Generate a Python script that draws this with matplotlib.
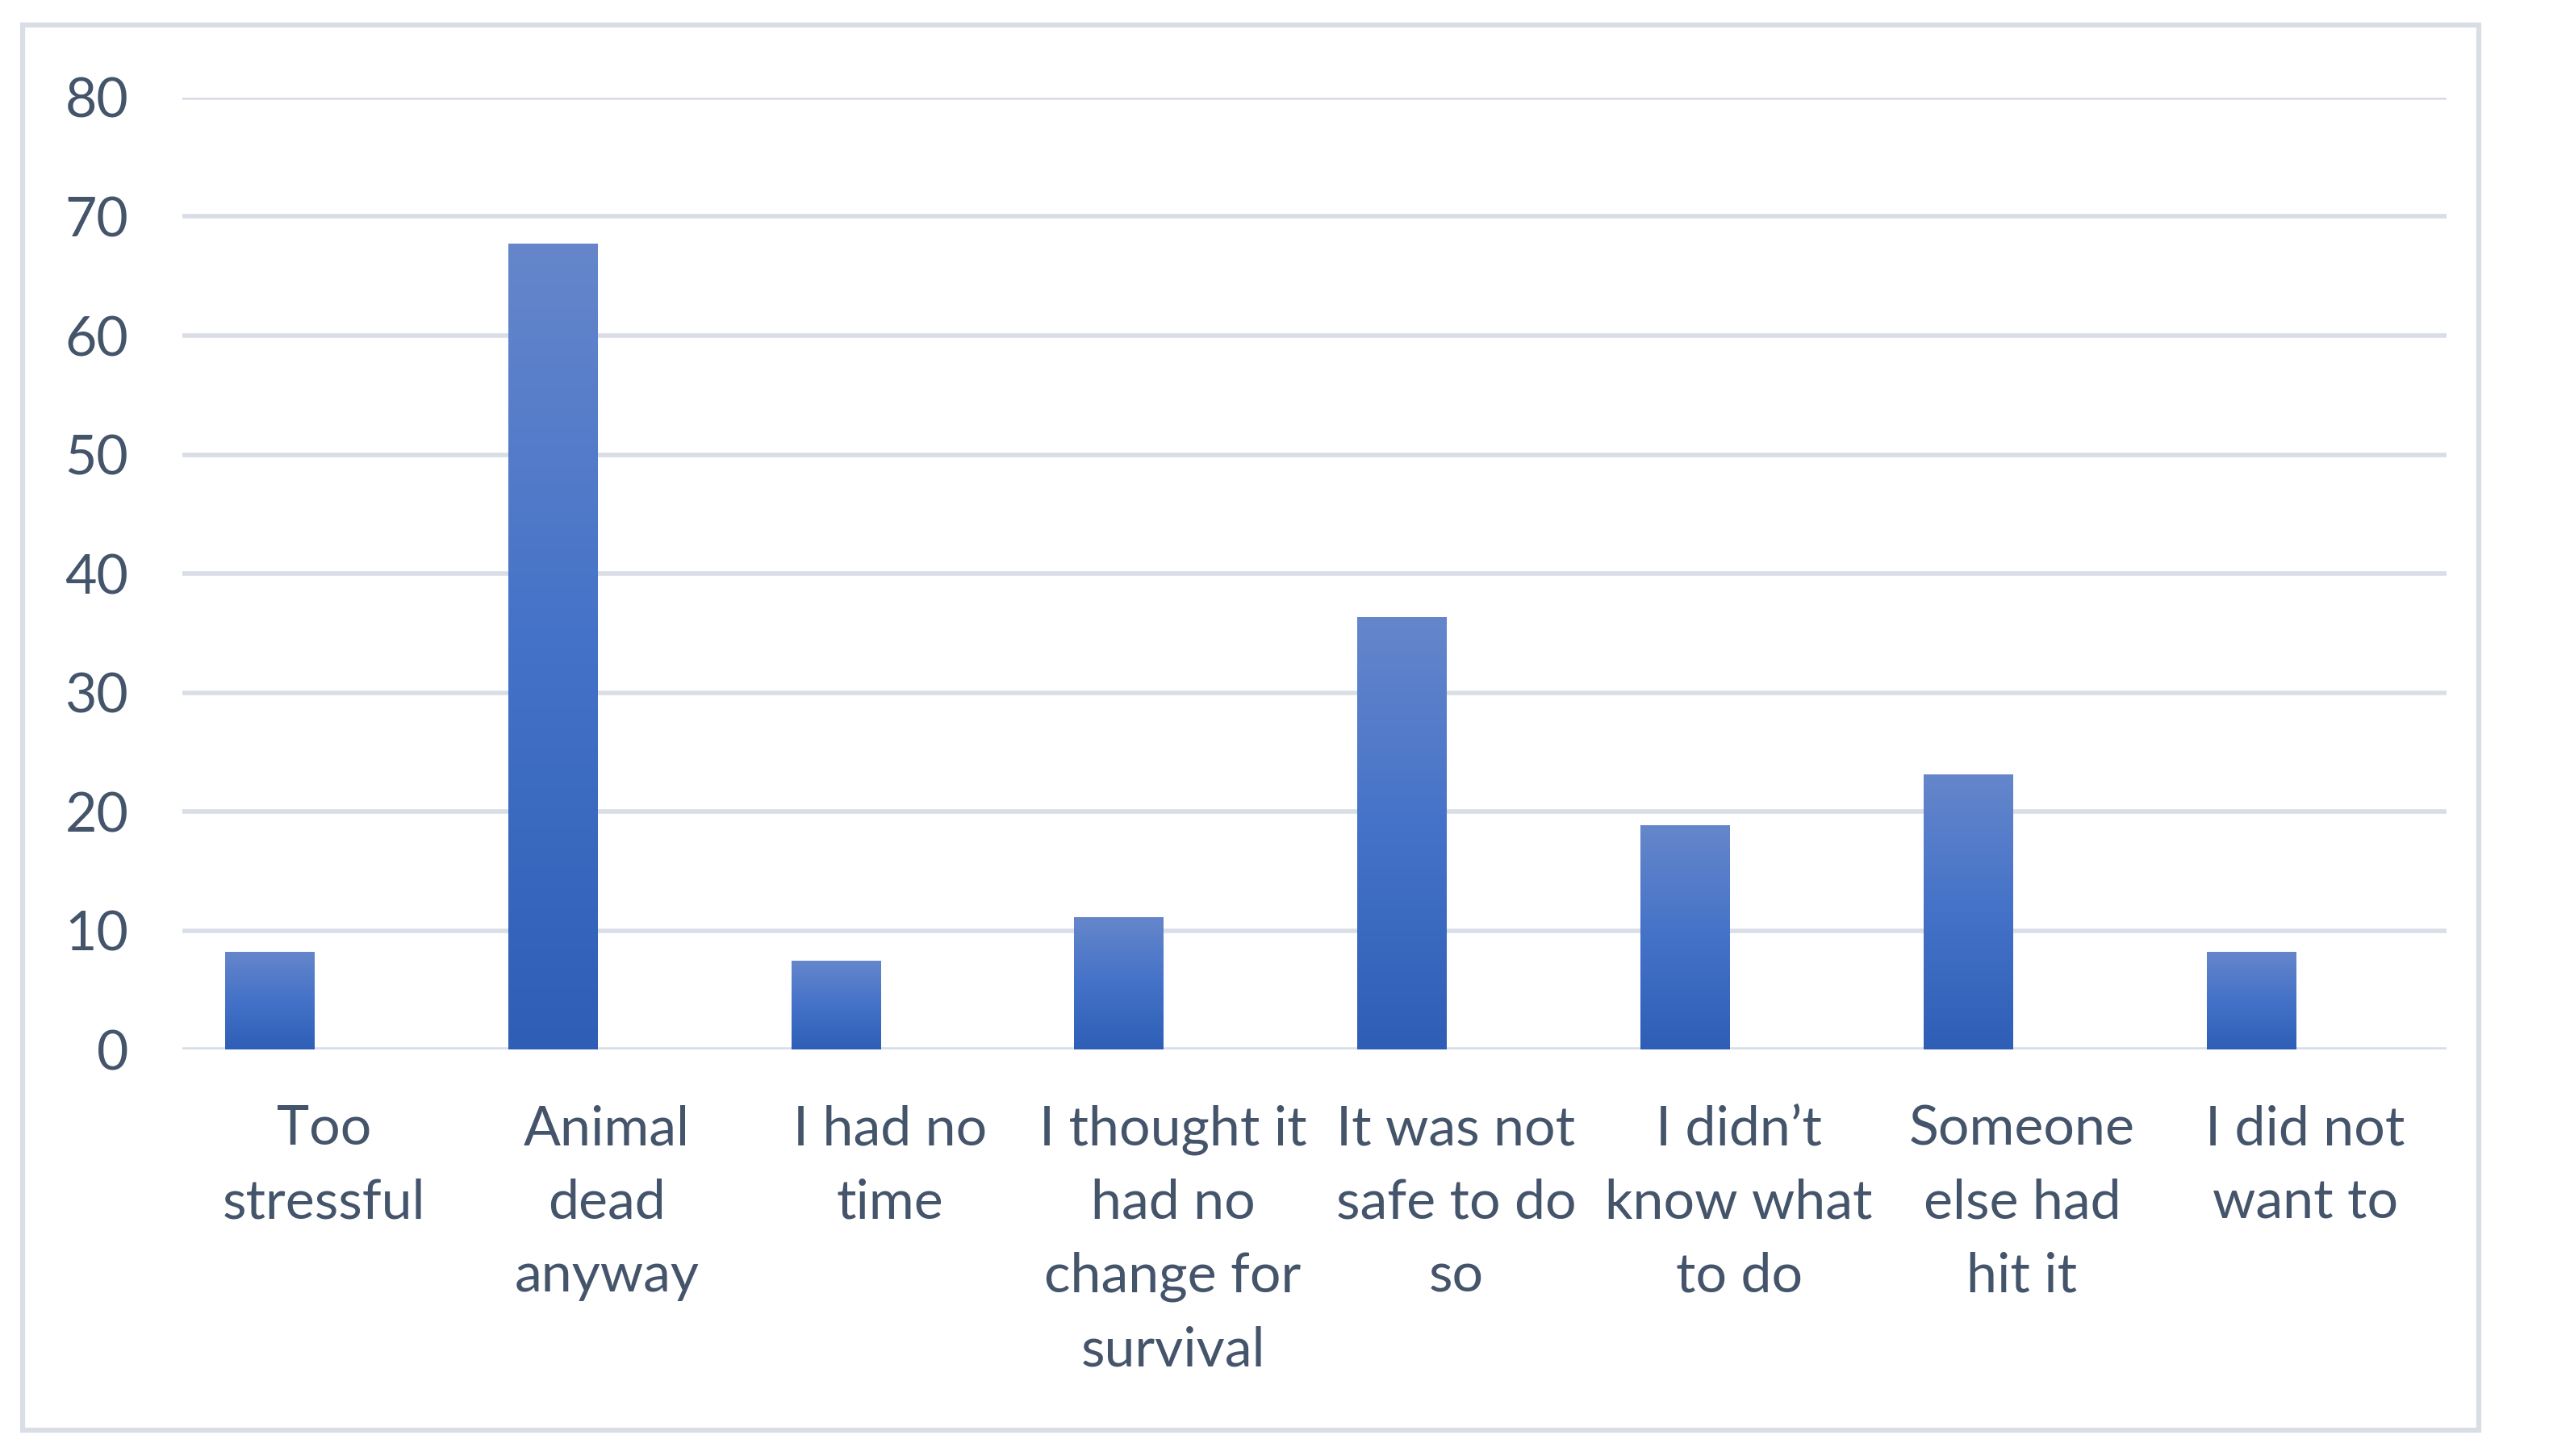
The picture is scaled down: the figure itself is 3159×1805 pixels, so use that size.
import numpy as np
import matplotlib
matplotlib.use("Agg")
import matplotlib.pyplot as plt
from matplotlib.colors import LinearSegmentedColormap
from matplotlib.patches import Rectangle

# data
categories = ["Too\nstressful", "Animal\ndead\nanyway", "I had no\ntime",
              "I thought it\nhad no\nchange for\nsurvival", "It was not\nsafe to do\nso",
              "I didn\u2019t\nknow what\nto do", "Someone\nelse had\nhit it", "I did not\nwant to"]
values = [8.2, 67.7, 7.4, 11.1, 36.3, 18.8, 23.1, 8.2]
yticks = [0, 10, 20, 30, 40, 50, 60, 70, 80]

text_col = "#44546A"
grid_col = "#D9DEE6"
plt.rcParams['font.family'] = ['Lato', 'DejaVu Sans']

fig = plt.figure(figsize=(31.59, 18.05), dpi=100)
ax = fig.add_axes([0.0715, 0.279, 0.8883, 0.654])

# outer chart border
fig.patches.append(Rectangle((0.0089, 0.0177), 0.9636, 0.9653, transform=fig.transFigure,
                             fill=False, edgecolor=grid_col, linewidth=4.5))

cmap = LinearSegmentedColormap.from_list("bar", ["#2E5EB6", "#4472C8", "#6586CB"])
grad = np.linspace(0, 1, 256).reshape(-1, 1)

offset = -0.19
width = 0.316
x = np.arange(len(categories))
for xi, v in zip(x, values):
    left = xi + offset - width / 2
    ax.imshow(grad, cmap=cmap, origin="lower", aspect="auto",
              extent=(left, left + width, 0, v), zorder=3)

ax.set_xlim(-0.5, len(categories) - 0.5)
ax.set_ylim(0, 80)
ax.set_yticks(yticks)
ax.set_xticks(x)
ax.set_xticklabels(categories, linespacing=1.58)
for y in yticks:
    ax.axhline(y, color=grid_col, linewidth=4, zorder=1)

for s in ax.spines.values():
    s.set_visible(False)
ax.tick_params(axis="both", length=0, labelsize=49, colors=text_col)
ax.tick_params(axis="y", pad=48)
ax.tick_params(axis="x", pad=49)
for lab in ax.get_xticklabels():
    lab.set_verticalalignment("top")

fig.savefig("out.png", dpi=100)
